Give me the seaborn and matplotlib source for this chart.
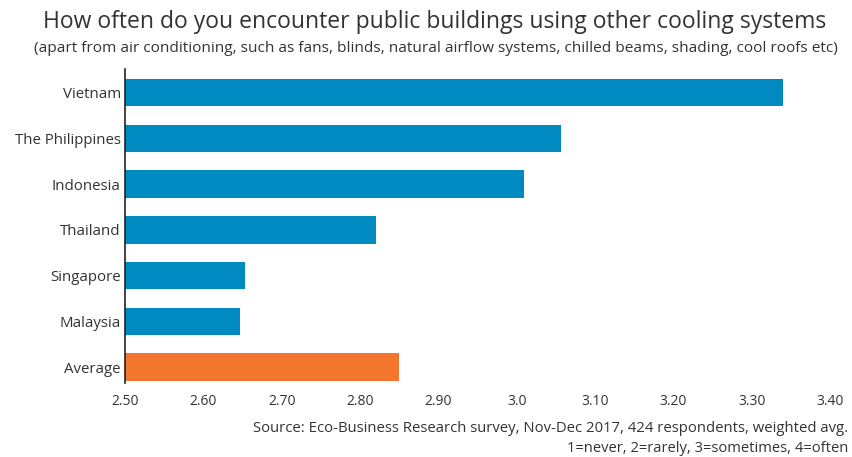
import matplotlib
matplotlib.use("Agg")
import matplotlib.pyplot as plt
import seaborn as sns
import pandas as pd

countries = ["Vietnam", "The Philippines", "Indonesia", "Thailand",
             "Singapore", "Malaysia", "Average"]
scores = [3.34, 3.057, 3.009, 2.82, 2.653, 2.647, 2.85]
groups = ["country"] * 6 + ["average"]
tick_values = [2.5, 2.6, 2.7, 2.8, 2.9, 3.0, 3.1, 3.2, 3.3, 3.4]
tick_labels = ["2.50", "2.60", "2.70", "2.80", "2.90", "3.0",
               "3.10", "3.20", "3.30", "3.40"]

BLUE = "#008AC2"
ORANGE = "#F3762C"
TEXT = "#333333"

sns.set_theme(style="white")
plt.rcParams["font.family"] = ["Open Sans", "DejaVu Sans"]

df = pd.DataFrame({"country": countries, "score": scores, "group": groups})

fig = plt.figure(figsize=(8.53, 4.57), dpi=100)
ax = fig.add_axes([125 / 853, 1 - 383 / 457, 705 / 853, (383 - 69) / 457])

sns.barplot(data=df, y="country", x="score", hue="group",
            palette={"country": BLUE, "average": ORANGE},
            orient="h", width=0.6, legend=False, ax=ax, saturation=1,
            linewidth=0)

ax.set_xlim(2.5, 3.4)
ax.set_ylim(6.35, -0.52)
ax.set_xticks(tick_values)
ax.set_xticklabels(tick_labels)
ax.set_xlabel("")
ax.set_ylabel("")
ax.tick_params(axis="both", length=0, colors=TEXT)
ax.tick_params(axis="y", pad=3, labelsize=10.8)
ax.tick_params(axis="x", pad=8, labelsize=10)

for side in ["top", "right", "bottom"]:
    ax.spines[side].set_visible(False)
ax.spines["left"].set_color("#222222")
ax.spines["left"].set_linewidth(1.2)

fig.text(434.5 / 853, 1 - 22 / 457, "How often do you encounter public buildings using other cooling systems",
         ha="center", va="center", fontsize=16.5, color=TEXT)
fig.text(435.5 / 853, 1 - 49 / 457,
         "(apart from air conditioning, such as fans, blinds, natural airflow systems, chilled beams, shading, cool roofs etc)",
         ha="center", va="center", fontsize=11.1, color=TEXT)
fig.text(848 / 853, 1 - 428 / 457,
         "Source: Eco-Business Research survey, Nov-Dec 2017, 424 respondents, weighted avg.",
         ha="right", va="center", fontsize=10.75, color=TEXT)
fig.text(848 / 853, 1 - 449 / 457,
         "1=never, 2=rarely, 3=sometimes, 4=often",
         ha="right", va="center", fontsize=10.6, color=TEXT)

fig.savefig("out.png", dpi=100)
